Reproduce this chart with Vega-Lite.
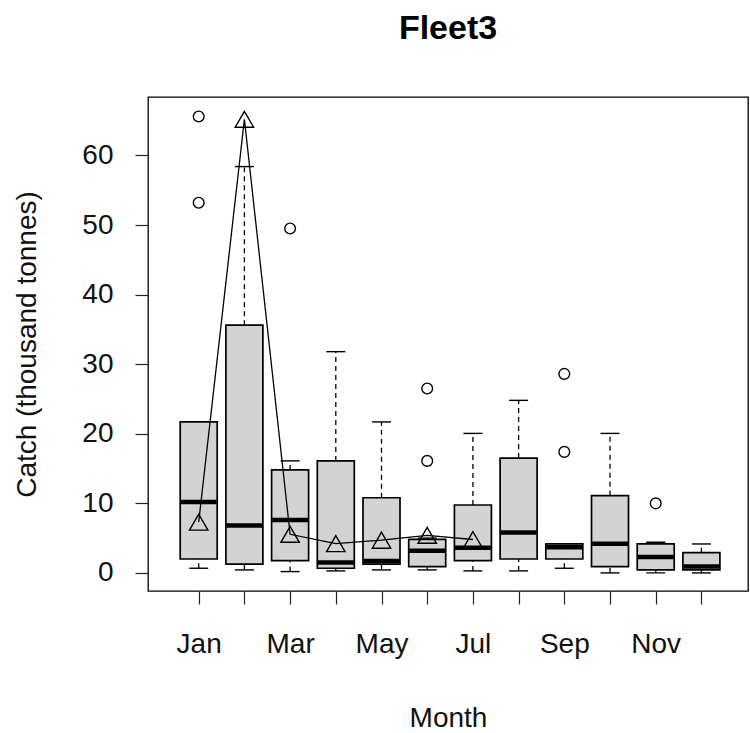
{
  "$schema": "https://vega.github.io/schema/vega-lite/v6.json",
  "autosize": "none",
  "width": 600,
  "height": 494,
  "padding": {"left": 148, "top": 97, "right": 2, "bottom": 142},
  "background": "white",
  "title": {"text": "Fleet3", "fontSize": 34, "font": "Liberation Sans", "fontWeight": "bold", "color": "black", "anchor": "middle", "offset": 51},
  "config": {
    "view": {"stroke": "black", "strokeWidth": 1.3},
    "axis": {"font": "Liberation Sans", "labelFont": "Liberation Sans", "titleFont": "Liberation Sans", "labelColor": "#111", "titleColor": "#111", "tickColor": "#222", "labelFontSize": 28, "titleFontSize": 28, "titleFontWeight": "normal", "grid": false, "domain": false, "tickSize": 13, "tickWidth": 1.2}
  },
  "datasets": {
    "boxes": [
      {"month": 1, "lo": 0.67, "q1": 2.0, "med": 10.2, "q3": 21.7, "hi": 21.7},
      {"month": 2, "lo": 0.43, "q1": 1.25, "med": 6.8, "q3": 35.6, "hi": 58.4},
      {"month": 3, "lo": 0.19, "q1": 1.77, "med": 7.6, "q3": 14.8, "hi": 16.1},
      {"month": 4, "lo": 0.29, "q1": 0.67, "med": 1.5, "q3": 16.1, "hi": 31.8},
      {"month": 5, "lo": 0.43, "q1": 1.25, "med": 1.7, "q3": 10.8, "hi": 21.7},
      {"month": 6, "lo": 0.43, "q1": 0.91, "med": 3.2, "q3": 4.83, "hi": 5.0},
      {"month": 7, "lo": 0.29, "q1": 1.77, "med": 3.6, "q3": 9.76, "hi": 20.05},
      {"month": 8, "lo": 0.29, "q1": 2.0, "med": 5.8, "q3": 16.5, "hi": 24.8},
      {"month": 9, "lo": 0.67, "q1": 2.0, "med": 3.7, "q3": 4.16, "hi": 4.16},
      {"month": 10, "lo": 0.0, "q1": 0.91, "med": 4.2, "q3": 11.1, "hi": 20.05},
      {"month": 11, "lo": 0.0, "q1": 0.43, "med": 2.3, "q3": 4.16, "hi": 4.4},
      {"month": 12, "lo": 0.0, "q1": 0.43, "med": 0.91, "q3": 2.92, "hi": 4.16}
    ],
    "outliers": [
      {"month": 1, "value": 53.2},
      {"month": 1, "value": 65.6},
      {"month": 3, "value": 49.5},
      {"month": 6, "value": 16.1},
      {"month": 6, "value": 26.5},
      {"month": 9, "value": 17.4},
      {"month": 9, "value": 28.6},
      {"month": 11, "value": 10.0}
    ],
    "points": [
      {"month": 1, "value": 7.3},
      {"month": 2, "value": 65.2},
      {"month": 3, "value": 5.55},
      {"month": 4, "value": 4.2},
      {"month": 5, "value": 4.7},
      {"month": 6, "value": 5.4},
      {"month": 7, "value": 4.8}
    ]
  },
  "encoding": {
    "x": {
      "field": "month", "type": "quantitative",
      "scale": {"domain": [0, 12.91], "nice": false, "zero": false},
      "axis": {
        "title": "Month",
        "values": [1, 2, 3, 4, 5, 6, 7, 8, 9, 10, 11, 12],
        "labelExpr": "datum.value % 2 == 1 ? ['Jan','Feb','Mar','Apr','May','Jun','Jul','Aug','Sep','Oct','Nov','Dec'][datum.value - 1] : ''",
        "labelOverlap": false, "labelFlush": false, "labelPadding": 26,
        "titleY": 127, "titleBaseline": "middle"
      }
    }
  },
  "layer": [
    {
      "data": {"name": "boxes"},
      "mark": {"type": "rule", "strokeDash": [5, 4], "strokeWidth": 1.3, "color": "black"},
      "encoding": {
        "y": {"field": "q3", "type": "quantitative", "title": "Catch (thousand tonnes)",
          "scale": {"domain": [-2.6, 68.4], "nice": false, "zero": false},
          "axis": {"values": [0, 10, 20, 30, 40, 50, 60], "labelOverlap": false, "labelPadding": 22, "titleX": -121, "titleY": 247, "titleBaseline": "middle", "titleAlign": "center", "titleAngle": -90}},
        "y2": {"field": "hi"}
      }
    },
    {
      "data": {"name": "boxes"},
      "mark": {"type": "rule", "strokeDash": [5, 4], "strokeWidth": 1.3, "color": "black"},
      "encoding": {
        "y": {"field": "lo", "type": "quantitative", "title": "Catch (thousand tonnes)", "scale": {"domain": [-2.6, 68.4], "nice": false, "zero": false}},
        "y2": {"field": "q1"}
      }
    },
    {
      "data": {"name": "boxes"},
      "mark": {"type": "tick", "orient": "horizontal", "size": 19, "thickness": 1.4, "color": "black", "opacity": 1},
      "encoding": {
        "y": {"field": "hi", "type": "quantitative", "title": "Catch (thousand tonnes)", "scale": {"domain": [-2.6, 68.4], "nice": false, "zero": false}}
      }
    },
    {
      "data": {"name": "boxes"},
      "mark": {"type": "tick", "orient": "horizontal", "size": 19, "thickness": 1.4, "color": "black", "opacity": 1},
      "encoding": {
        "y": {"field": "lo", "type": "quantitative", "title": "Catch (thousand tonnes)", "scale": {"domain": [-2.6, 68.4], "nice": false, "zero": false}}
      }
    },
    {
      "data": {"name": "boxes"},
      "mark": {"type": "bar", "size": 37, "fill": "#D3D3D3", "stroke": "black", "strokeWidth": 1.7},
      "encoding": {
        "y": {"field": "q1", "type": "quantitative", "title": "Catch (thousand tonnes)", "scale": {"domain": [-2.6, 68.4], "nice": false, "zero": false}},
        "y2": {"field": "q3"}
      }
    },
    {
      "data": {"name": "boxes"},
      "mark": {"type": "tick", "orient": "horizontal", "size": 36, "thickness": 4.5, "color": "black", "opacity": 1},
      "encoding": {
        "y": {"field": "med", "type": "quantitative", "title": "Catch (thousand tonnes)", "scale": {"domain": [-2.6, 68.4], "nice": false, "zero": false}}
      }
    },
    {
      "data": {"name": "outliers"},
      "mark": {"type": "point", "shape": "circle", "filled": false, "stroke": "black", "strokeWidth": 1.4, "size": 115, "opacity": 1},
      "encoding": {
        "y": {"field": "value", "type": "quantitative", "title": "Catch (thousand tonnes)", "scale": {"domain": [-2.6, 68.4], "nice": false, "zero": false}}
      }
    },
    {
      "data": {"name": "points"},
      "mark": {"type": "line", "color": "black", "strokeWidth": 1.3},
      "encoding": {
        "y": {"field": "value", "type": "quantitative", "title": "Catch (thousand tonnes)", "scale": {"domain": [-2.6, 68.4], "nice": false, "zero": false}}
      }
    },
    {
      "data": {"name": "points"},
      "mark": {"type": "point", "shape": "triangle-up", "filled": false, "stroke": "black", "strokeWidth": 1.4, "size": 340, "opacity": 1},
      "encoding": {
        "y": {"field": "value", "type": "quantitative", "title": "Catch (thousand tonnes)", "scale": {"domain": [-2.6, 68.4], "nice": false, "zero": false}}
      }
    }
  ]
}
